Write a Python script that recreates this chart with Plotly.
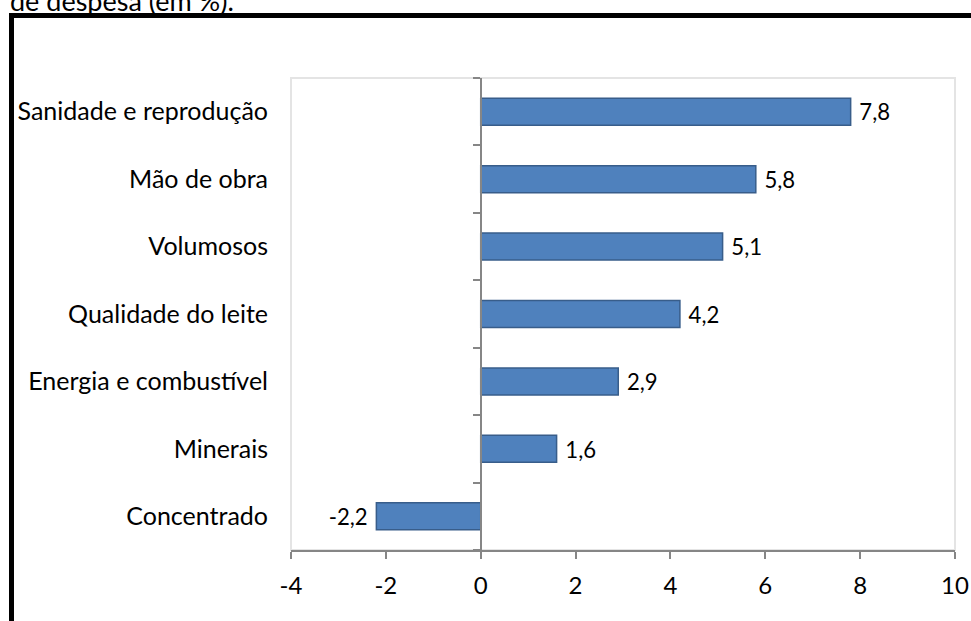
import plotly.graph_objects as go

categories = ["Sanidade e reprodução", "Mão de obra", "Volumosos", "Qualidade do leite",
              "Energia e combustível", "Minerais", "Concentrado"]
values = [7.8, 5.8, 5.1, 4.2, 2.9, 1.6, -2.2]
x_tick_vals = [-4, -2, 0, 2, 4, 6, 8, 10]
x_tick_labels = ["-4", "-2", "0", "2", "4", "6", "8", "10"]
title_text = "de despesa (em %)."

labels = [(" " + f"{v:.1f}".replace(".", ",")) if v >= 0 else (f"{v:.1f}".replace(".", ",") + " ")
          for v in values]

FONT = "Lato"
W, H = 971, 621
ML, MR, MT, MB = 291, 16, 78, 71
PW, PH = W - ML - MR, H - MT - MB

def px_x(p):
    return (p - ML) / PW

def px_y(p):
    return 1 + (MT - p) / PH

fig = go.Figure()
fig.add_trace(go.Bar(
    x=values, y=categories, orientation="h",
    marker=dict(color="#4F81BD", line=dict(color="#385D8A", width=1.5)),
    text=labels, textposition="outside", cliponaxis=False,
    textfont=dict(family=FONT, size=23, color="#000000"),
    hoverinfo="skip",
))
# invisible trace for the axis crossing at zero
n = len(categories)
fig.add_trace(go.Scatter(x=[0], y=[0], yaxis="y2", mode="markers",
                         marker=dict(opacity=0), showlegend=False, hoverinfo="skip"))

fig.update_layout(
    width=W, height=H,
    margin=dict(l=ML, r=MR, t=MT, b=MB, autoexpand=False),
    paper_bgcolor="white", plot_bgcolor="white",
    showlegend=False, bargap=0.6,
    xaxis=dict(range=[-4, 10], tickvals=x_tick_vals, ticktext=x_tick_labels,
               showgrid=False, zeroline=False, showline=True, linecolor="#868686", linewidth=2,
               ticks="outside", ticklen=7, tickwidth=2, tickcolor="#868686",
               tickfont=dict(family=FONT, size=24, color="#000000"),
               ticklabelstandoff=6, automargin=False, fixedrange=True),
    yaxis=dict(type="category", categoryorder="array", categoryarray=categories,
               autorange="reversed", showgrid=False, zeroline=False, showline=False,
               ticks="outside", ticklen=17, tickcolor="rgba(0,0,0,0)", automargin=False,
               tickfont=dict(family=FONT, size=25, color="#000000")),
    yaxis2=dict(overlaying="y", anchor="free", position=4 / 14, range=[n - 0.5, -0.5],
                tickvals=[i - 0.5 for i in range(n + 1)], showticklabels=False,
                showgrid=False, zeroline=False, showline=True, linecolor="#868686", linewidth=2,
                ticks="outside", ticklen=7, tickwidth=2, tickcolor="#868686", automargin=False),
    shapes=[
        dict(type="rect", xref="paper", yref="paper", x0=0, x1=1, y0=0, y1=1,
             line=dict(color="#e4e4e4", width=2), layer="below"),
        dict(type="rect", xref="paper", yref="paper",
             x0=px_x(11.5), x1=px_x(1100), y0=px_y(700), y1=px_y(15.5),
             line=dict(color="#000000", width=5), fillcolor="rgba(0,0,0,0)"),
    ],
    annotations=[
        dict(text=title_text, xref="paper", yref="paper", x=px_x(8), y=px_y(19),
             xanchor="left", yanchor="bottom", showarrow=False,
             font=dict(family=FONT, size=27, color="#000000")),
    ],
)

fig.write_html("out.html")
